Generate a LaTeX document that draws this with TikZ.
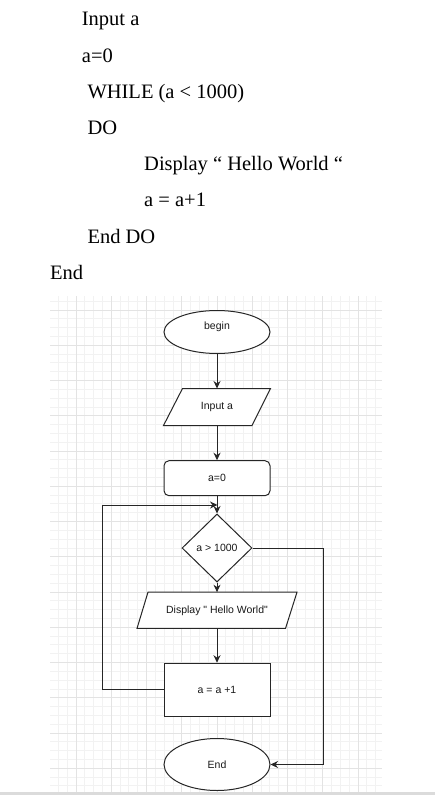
\documentclass[tikz,border=0pt]{standalone}
\usepackage{fontspec}
\setmainfont{Liberation Serif}
\newfontfamily\flowfont{Liberation Sans}
\usetikzlibrary{shapes.geometric,arrows.meta}
\pgfdeclarelayer{gridlayer}
\pgfdeclarelayer{shapelayer}
\pgfsetlayers{gridlayer,shapelayer,main}
\begin{document}
\begin{tikzpicture}[x=1pt,y=-1pt,
  minorgrid/.style={draw=black!5, line width=0.8pt},
  majorgrid/.style={draw=black!11, line width=0.8pt},
  shapeline/.style={draw=black!85, line width=1pt, fill=white, inner sep=0pt,
    font=\flowfont\fontsize{10.5}{12}\selectfont, text=black!90},
  terminal/.style={shapeline, ellipse, minimum width=106pt},
  iobox/.style={shapeline, draw=none, fill=none, rectangle},
  ioline/.style={draw=black!85, line width=1pt, fill=white},
  procbox/.style={shapeline, rectangle, minimum width=106pt},
  decision/.style={shapeline, diamond, minimum width=70pt, minimum height=68pt},
  flowarrow/.style={draw=black!85, line width=1pt, -{Stealth[length=7.5pt,width=7pt]}},
  pseudo/.style={anchor=base west, inner sep=0pt, font=\fontsize{20.5}{24}\selectfont}
]
\useasboundingbox (0,0) rectangle (435,795);
\begin{pgfonlayer}{gridlayer}
\fill[white] (0,0) rectangle (435,795);
\begin{scope}
\clip (50,296) rectangle (382,792);
\foreach \k in {-3,...,35} {\draw[minorgrid] ({76+8.8125*\k},296) -- ({76+8.8125*\k},792);}
\foreach \k in {-1,...,55} {\draw[minorgrid] (50,{310+8.8125*\k}) -- (382,{310+8.8125*\k});}
\foreach \m in {-1,...,9} {\draw[majorgrid] ({76+35.25*\m},296) -- ({76+35.25*\m},792);}
\foreach \m in {-1,...,14} {\draw[majorgrid] (50,{310+35.25*\m}) -- (382,{310+35.25*\m});}
\end{scope}
\fill[black!14] (0,792) rectangle (435,795);
\end{pgfonlayer}
% pseudocode
\node[pseudo] (l1) at (81.7,25) {Input a};
\node[pseudo] (l2) at (81.7,62.5) {a=0};
\node[pseudo] (l3) at (87.3,98.7) {WHILE (a < 1000)};
\node[pseudo] (l4) at (87.3,134.3) {DO};
\node[pseudo] (l5) at (144,170.7) {Display “ Hello World “};
\node[pseudo] (l6) at (144,206.7) {a = a+1};
\node[pseudo] (l7) at (87.3,243.3) {End DO};
\node[pseudo] (l8) at (50,279.3) {End};
% flowchart
\node[terminal, minimum height=43pt] (begin) at (217,332) {\raisebox{5pt}[\height][\depth]{begin}};
\node[iobox, minimum width=106pt, minimum height=36pt] (input) at (217,407) {Input a};
\node[procbox, rounded corners=5pt, minimum height=35pt] (init) at (217,478.2) {a=0};
\node[decision] (dia) at (217,548) {a > 1000};
\node[iobox, minimum width=159pt, minimum height=35.3pt] (disp) at (217,610.3) {Display " Hello World"};
\node[procbox, minimum height=53pt] (inc) at (217,689.7) {a = a +1};
\node[terminal, minimum height=52pt] (end) at (217,764.5) {End};
\begin{pgfonlayer}{shapelayer}
\draw[ioline] ([xshift=19pt]input.north west) -- (input.north east)
  -- ([xshift=-18.5pt]input.south east) -- (input.south west) -- cycle;
\draw[ioline] ([xshift=11pt]disp.north west) -- (disp.north east)
  -- ([xshift=-11.5pt]disp.south east) -- (disp.south west) -- cycle;
\end{pgfonlayer}
\coordinate (loopL) at (102.7,505);
\coordinate (loopin) at (217.5,505);
\coordinate (rightC) at (323.3,764.5);
\draw[flowarrow] (begin) -- (input);
\draw[flowarrow] (input) -- (init);
\draw[flowarrow] (init) -- (dia);
\draw[flowarrow] (dia) -- (disp);
\draw[flowarrow] (disp) -- (inc);
\draw[flowarrow] (inc.west) -| (loopL) -- (loopin);
\draw[flowarrow] (dia.east) -| (rightC) -- (end.east);
\end{tikzpicture}
\end{document}
